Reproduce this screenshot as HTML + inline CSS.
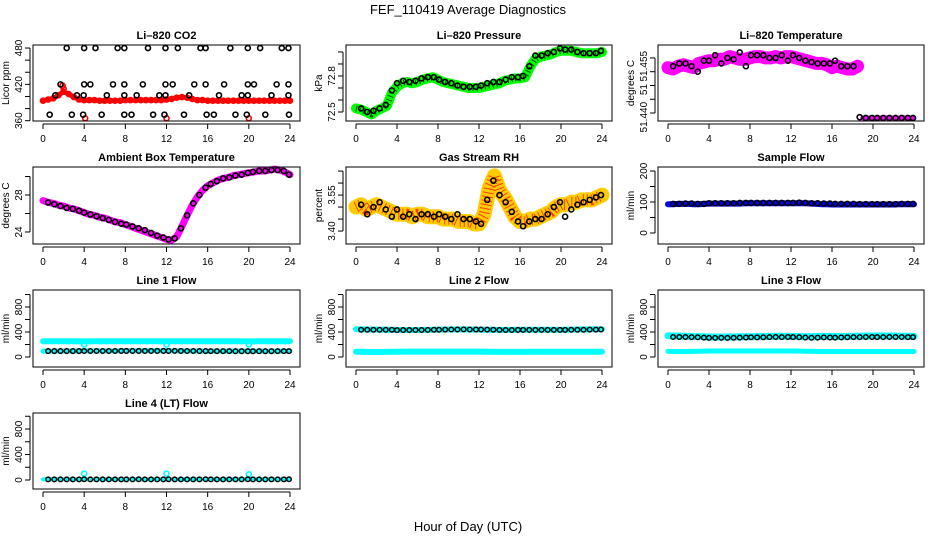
<!DOCTYPE html>
<html><head><meta charset="utf-8">
<style>
html,body{margin:0;padding:0;background:#fff;}
svg text{font-family:"Liberation Sans",sans-serif;}
</style></head>
<body>
<svg id="chart" width="936" height="540" viewBox="0 0 936 540" xmlns="http://www.w3.org/2000/svg">
<rect width="936" height="540" fill="#fff"/>
<text x="468" y="14" font-size="13" text-anchor="middle">FEF_110419  Average Diagnostics</text>
<text x="468" y="531" font-size="13" text-anchor="middle">Hour of Day (UTC)</text>
</svg>
<script>
const colorHours=[0,0.5,1,1.5,2,2.5,3,3.5,4,4.5,5,5.5,6,6.5,7,7.5,8,8.5,9,9.5,10,10.5,11,11.5,12,12.5,13,13.5,14,14.5,15,15.5,16,16.5,17,17.5,18,18.5,19,19.5,20,20.5,21,21.5,22,22.5,23,23.5,24];
const blackHours=[0.5,1.1,1.7,2.3,2.9,3.5,4.0,4.6,5.2,5.8,6.4,7.0,7.6,8.1,8.7,9.3,9.9,10.5,11.1,11.7,12.2,12.8,13.4,14.0,14.6,15.2,15.8,16.3,16.9,17.5,18.1,18.7,19.3,19.9,20.4,21.0,21.6,22.2,22.8,23.4,23.9];
const xTicks=[0,4,8,12,16,20,24];

const co2Red=[393,395,397,402,408,404,399,395,394,394,394,393,393,393,393,393,394,394,394,394,394,394,394,394,395,396,398,399,398,396,394,394,393,393,393,393,393,393,393,393,393,393,393,393,393,393,393,393,393];
const co2RedOutHours=[1.9,2.0,4.1,12.0,20.0];
const co2RedOutVals=[418,413,364,364,364];
const co2BlackHours=[2.3,4.0,5.1,7.25,7.9,10.2,11.9,13.1,15.3,15.8,18.2,19.9,21.1,23.2,23.85, 1.7,4.0,4.6,6.8,7.9,9.7,11.9,12.6,14.7,15.8,17.6,19.9,20.5,22.7,23.85, 1.2,3.3,3.95,6.2,7.9,9.1,11.3,11.9,14.2,17.1,19.3,19.9,22.2,23.85, 0.65,2.8,3.9,5.7,7.9,8.6,10.7,11.8,13.7,15.9,16.6,18.7,19.8,21.6,23.9];
const co2BlackVals=[480,480,480,480,480,480,480,480,480,480,480,480,480,480,480, 420,420,420,420,420,420,420,420,420,420,420,420,420,420,420, 402,402,402,402,402,402,402,402,402,402,402,402,402,402, 370,370,370,370,370,370,370,370,370,370,370,370,370,370,370];

const presGreen=[72.53,72.52,72.50,72.48,72.51,72.53,72.55,72.66,72.71,72.74,72.75,72.74,72.75,72.77,72.78,72.79,72.77,72.75,72.74,72.73,72.72,72.71,72.70,72.70,72.70,72.71,72.72,72.73,72.74,72.76,72.77,72.78,72.78,72.79,72.88,72.94,72.96,72.97,72.98,73.00,73.01,73.01,73.01,73.00,72.99,72.99,72.99,72.99,73.00];
const presBlack=[72.53,72.50,72.51,72.53,72.56,72.68,72.74,72.76,72.75,72.76,72.78,72.79,72.79,72.77,72.75,72.74,72.72,72.71,72.71,72.71,72.72,72.74,72.75,72.75,72.77,72.79,72.79,72.80,72.88,72.97,72.97,72.99,73.00,73.03,73.02,73.02,73.00,72.99,72.99,72.99,73.01];

const tempPink=[51.4565,51.456,51.457,51.4575,51.457,51.4565,51.458,51.4585,51.459,51.459,51.4595,51.4595,51.4605,51.460,51.4595,51.4595,51.460,51.4605,51.4605,51.460,51.460,51.4605,51.460,51.4605,51.4605,51.460,51.4595,51.459,51.4585,51.458,51.458,51.4575,51.4565,51.457,51.4565,51.456,51.456,51.457,51.4382,51.4382,51.4382,51.4382,51.4382,51.4383,51.4382,51.4382,51.4383,51.4382,51.4382];
const tempBlack=[51.457,51.458,51.458,51.457,51.455,51.459,51.459,51.461,51.458,51.460,51.4595,51.462,51.457,51.461,51.461,51.461,51.460,51.460,51.461,51.459,51.461,51.460,51.459,51.4585,51.458,51.458,51.458,51.459,51.457,51.457,51.457,51.4385,51.4382,51.4382,51.4382,51.4382,51.4382,51.4382,51.4382,51.4382,51.4382];

const ambMagenta=[27.4,27.2,27.1,26.9,26.8,26.6,26.5,26.3,26.1,25.9,25.8,25.6,25.5,25.3,25.1,25.0,24.8,24.6,24.4,24.2,24.0,23.8,23.6,23.4,23.2,23.1,23.5,24.6,25.8,26.9,27.8,28.5,29.0,29.3,29.6,29.8,29.9,30.1,30.2,30.3,30.4,30.5,30.6,30.6,30.7,30.8,30.7,30.5,30.2];
const ambBlack=[27.2,27.0,26.8,26.6,26.5,26.3,26.1,25.9,25.7,25.5,25.3,25.1,24.9,24.8,24.6,24.4,24.2,23.9,23.6,23.4,23.2,23.3,24.4,25.8,27.1,28.0,28.8,29.2,29.5,29.8,29.9,30.1,30.2,30.4,30.5,30.6,30.6,30.7,30.7,30.6,30.2];

const rhOrange=[3.50,3.51,3.49,3.50,3.51,3.50,3.49,3.48,3.47,3.47,3.47,3.46,3.47,3.47,3.46,3.46,3.46,3.45,3.45,3.45,3.44,3.44,3.44,3.43,3.43,3.47,3.58,3.63,3.57,3.54,3.50,3.46,3.44,3.44,3.45,3.45,3.46,3.47,3.48,3.50,3.51,3.51,3.52,3.52,3.53,3.53,3.53,3.54,3.55];
const rhBlack=[3.51,3.47,3.50,3.52,3.49,3.46,3.49,3.46,3.47,3.45,3.47,3.47,3.46,3.47,3.46,3.45,3.47,3.45,3.45,3.44,3.43,3.53,3.61,3.55,3.52,3.48,3.44,3.42,3.44,3.45,3.45,3.47,3.50,3.52,3.46,3.49,3.51,3.52,3.53,3.54,3.55];

const sampBlue=[93,93,94,94,94,93,93,94,95,95,95,95,95,95,95,96,96,96,96,96,96,96,96,96,96,96,96,96,95,94,93,93,92,92,92,92,92,92,92,92,92,92,92,92,92,93,93,93,93];
const sampBlack=[94,94,95,95,94,94,96,96,96,96,96,97,97,97,97,97,97,97,97,97,97,98,97,96,96,95,95,94,94,94,94,93,93,93,93,93,93,93,94,94,94];

const flowHours=[0,1,2,3,4,5,6,7,8,9,10,11,12,13,14,15,16,17,18,19,20,21,22,23,24];
const line1CyanHigh=[252,252,251,252,250,252,252,252,252,252,252,252,252,252,251,252,252,252,252,252,250,252,252,252,252];
const line1CyanLow=[95,95,96,96,100,98,98,98,100,100,100,100,100,98,96,96,95,95,95,95,95,95,95,95,95];
const line1Black=[95,95,95,95,95,95,96,96,96,96,96,96,97,97,97,97,97,97,97,97,97,98,97,96,96,95,95,94,94,94,94,93,93,93,93,93,93,93,94,94,94];
const line2CyanHigh=[445,440,438,436,432,430,432,434,438,440,442,440,438,436,434,434,436,436,436,436,434,438,440,442,444];
const line2CyanLow=[85,82,80,82,85,86,86,86,86,86,86,86,86,84,82,82,82,84,84,84,84,84,84,85,85];
const line2Black=[436,436,436,436,436,436,430,432,432,432,432,434,436,436,438,440,440,442,440,440,440,438,436,434,432,432,434,434,434,434,434,434,434,434,434,436,436,436,438,438,440];
const line3CyanHigh=[340,335,330,326,320,318,320,322,324,326,330,332,330,326,324,330,328,326,330,334,336,336,334,332,330];
const line3CyanLow=[90,88,88,92,96,96,96,96,96,96,96,96,96,94,90,88,88,88,88,88,88,88,88,88,88];
const line3Black=[320,320,320,318,316,310,306,306,308,306,308,310,312,316,314,316,318,320,318,320,318,316,312,308,310,314,312,310,314,316,318,318,320,320,318,318,320,320,320,318,318];
const line4Cyan=[10,10,10,10,10,10,10,10,10,10,10,10,10,10,10,10,10,10,10,10,10,10,10,10,10];
const line4CyanBlipHours=[4,12,20];
const line4CyanBlipVals=[100,100,90];
const line4Black=[10,10,10,10,10,10,12,10,10,10,10,10,10,10,10,12,10,10,10,10,12,10,10,10,10,10,12,10,10,10,10,10,10,12,10,10,10,10,10,10,12];
const line1CyanBlipHours=[4,12,20];
const line1CyanBlipVals=[200,200,200];

const NS='http://www.w3.org/2000/svg';
const svg=document.getElementById('chart');
function mk(tag,attrs,parent){const e=document.createElementNS(NS,tag);for(const k in attrs)e.setAttribute(k,attrs[k]);(parent||svg).appendChild(e);return e;}

const cols=[[33,300],[346,612],[658,924]];
const rows=[[45,121],[167,244],[290,367],[413,489]];

function panel(name,c,r,title,ylab,ymin,ymax,yticks,ylabels){
  const g=mk('g',{});
  
  
  const L=cols[c][0],R=cols[c][1],T=rows[r][0],B=rows[r][1];
  const xs=h=>(L+10)+h*(R-L-20)/24;
  const ys=v=>B-(v-ymin)*(B-T)/(ymax-ymin);
  const t=mk('text',{x:(L+R)/2,y:T-6,'font-size':11,'font-weight':'bold','text-anchor':'middle'},g);
  t.textContent=title;
  
  
  const yl=mk('text',{x:0,y:0,'font-size':10,'text-anchor':'middle',transform:`translate(${L-24},${(T+B)/2}) rotate(-90)`},g);
  yl.textContent=ylab;
  
  
  const xa=mk('g',{},g);
  
  
  mk('line',{x1:xs(0),x2:xs(24),y1:B+3,y2:B+3,stroke:'#000','stroke-width':1},xa);
  xTicks.forEach(h=>{
    mk('line',{x1:xs(h),x2:xs(h),y1:B+3,y2:B+8,stroke:'#000'},xa);
    const tx=mk('text',{x:xs(h),y:B+21,'font-size':10,'text-anchor':'middle'},xa);
    tx.textContent=h;
  });
  const ya=mk('g',{},g);
  
  
  mk('line',{x1:L-3,x2:L-3,y1:ys(yticks[0]),y2:ys(yticks[yticks.length-1]),stroke:'#000'},ya);
  yticks.forEach(v=>mk('line',{x1:L-3,x2:L-8,y1:ys(v),y2:ys(v),stroke:'#000'},ya));
  ylabels.forEach(([v,s])=>{
    const tx=mk('text',{x:0,y:0,'font-size':10,'text-anchor':'middle',transform:`translate(${L-11},${ys(v)}) rotate(-90)`},ya);
    tx.textContent=s;
  });
  const plot=mk('g',{},g);
  
  
  const box=mk('rect',{x:L,y:T,width:R-L,height:B-T,fill:'none',stroke:'#000','stroke-width':1},g);
  
  
  return {xs,ys,plot};
}
function band(p,name,hours,vals,color,w,overlay){
  const pts=hours.map((h,i)=>p.xs(h).toFixed(1)+','+p.ys(vals[i]).toFixed(1)).join(' ');
  const pl=mk('polyline',{points:pts,fill:'none',stroke:color,'stroke-width':w,'stroke-linejoin':'round','stroke-linecap':'round'},p.plot);
  
  
  if(overlay){
    const o=mk('polyline',{points:pts,fill:'none',stroke:overlay,'stroke-width':w-4,'stroke-dasharray':'1,3','stroke-linejoin':'round','stroke-opacity':0.7},p.plot);
    
    
  }
}
function dots(p,name,hours,vals,color,r,sw){
  const g=mk('g',{},p.plot);
  
  
  hours.forEach((h,i)=>{
    const c=mk('circle',{cx:p.xs(h),cy:p.ys(vals[i]),r:r||2.5,fill:'none',stroke:color,'stroke-width':sw||1.6},g);
    
    
  });
}

let p;
p=panel('co2-panel',0,0,'Li\u2013820 CO2','Licor ppm',359.5,485,[360,380,400,420,440,460,480],[[360,'360'],[420,'420'],[480,'480']]);
band(p,'co2-red-series',colorHours,co2Red,'#f00',5);
dots(p,'co2-red-series',colorHours,co2Red,'#f00',2.5,1.6);
dots(p,'co2-red-outliers',co2RedOutHours,co2RedOutVals,'#f00',2.5,1.6);
dots(p,'co2-black-series',co2BlackHours,co2BlackVals,'#000',2.5,1.6);

p=panel('pressure-panel',1,0,'Li\u2013820 Pressure','kPa',72.425,73.058,[72.5,72.6,72.7,72.8,72.9,73.0],[[72.5,'72.5'],[72.8,'72.8']]);
band(p,'pressure-green-series',colorHours,presGreen,'#0f0',10,'#000');
dots(p,'pressure-black-series',blackHours,presBlack,'#000',2.5,1.6);

p=panel('temperature-panel',2,0,'Li\u2013820 Temperature','degrees C',51.4371,51.4647,[51.440,51.445,51.450,51.455,51.460],[[51.4385,'51.440'],[51.4485,'51'],[51.457,'51.455']]);
band(p,'temperature-pink-series',colorHours.slice(0,38),tempPink.slice(0,38),'#f0f',13);
band(p,'temperature-pink-series-late',colorHours.slice(38),tempPink.slice(38),'#f0f',5);
dots(p,'temperature-black-series',blackHours,tempBlack,'#000',2.5,1.6);

p=panel('ambient-panel',0,1,'Ambient Box Temperature','degrees C',22.70,31.03,[24,26,28,30],[[24,'24'],[28,'28']]);
band(p,'ambient-magenta-series',colorHours,ambMagenta,'#f0f',7);
dots(p,'ambient-black-series',blackHours,ambBlack,'#000',2.5,1.6);

p=panel('rh-panel',1,1,'Gas Stream RH','percent',3.346,3.667,[3.40,3.45,3.50,3.55,3.60,3.65],[[3.40,'3.40'],[3.55,'3.55']]);
band(p,'rh-orange-series',colorHours,rhOrange,'#fc0',15,'#f00');
dots(p,'rh-black-series',blackHours,rhBlack,'#000',2.5,1.6);

p=panel('sample-flow-panel',2,1,'Sample Flow','ml/min',-35.5,213,[0,50,100,150,200],[[0,'0'],[100,'100'],[200,'200']]);
band(p,'sample-flow-blue-series',colorHours,sampBlue,'#00f',6);
dots(p,'sample-flow-black-series',blackHours,sampBlack,'#000',2.5,1.6);

const fT=[0,200,400,600,800,1000],fL=[[0,'0'],[400,'400'],[800,'800']];
p=panel('line1-flow-panel',0,2,'Line 1 Flow','ml/min',-160,1072,fT,fL);
band(p,'line1-cyan-high',flowHours,line1CyanHigh,'#0ff',6);
band(p,'line1-cyan-low',flowHours,line1CyanLow,'#0ff',5);
dots(p,'line1-cyan-blips',line1CyanBlipHours,line1CyanBlipVals,'#0ff',2.5,1.6);
dots(p,'line1-black-series',blackHours,line1Black,'#000',2.3,1.5);

p=panel('line2-flow-panel',1,2,'Line 2 Flow','ml/min',-160,1072,fT,fL);
band(p,'line2-cyan-high',flowHours,line2CyanHigh,'#0ff',6);
band(p,'line2-cyan-low',flowHours,line2CyanLow,'#0ff',6);
dots(p,'line2-black-series',blackHours,line2Black,'#000',2.3,1.5);

p=panel('line3-flow-panel',2,2,'Line 3 Flow','ml/min',-160,1072,fT,fL);
band(p,'line3-cyan-high',flowHours,line3CyanHigh,'#0ff',7);
band(p,'line3-cyan-low',flowHours,line3CyanLow,'#0ff',5);
dots(p,'line3-black-series',blackHours,line3Black,'#000',2.3,1.5);

p=panel('line4-flow-panel',0,3,'Line 4 (LT) Flow','ml/min',-141,1051,fT,fL);
band(p,'line4-cyan-series',flowHours,line4Cyan,'#0ff',4);
dots(p,'line4-cyan-blips',line4CyanBlipHours,line4CyanBlipVals,'#0ff',2.5,1.6);
dots(p,'line4-black-series',blackHours,line4Black,'#000',2.3,1.5);
</script>
</body></html>
